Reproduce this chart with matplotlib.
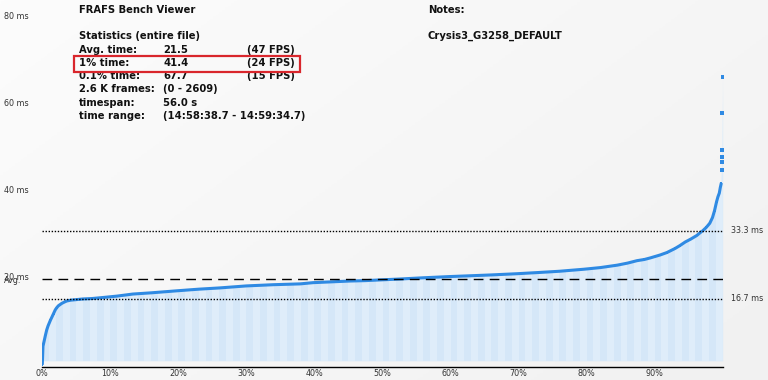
import numpy as np
import matplotlib
matplotlib.use("Agg")
import matplotlib.pyplot as plt
from matplotlib.patches import Rectangle

# ---------------- data ----------------
pct = [0, 0.1, 0.25, 0.45, 0.65, 0.85, 1.0, 1.2, 1.4, 1.65, 1.9, 2.1, 2.35, 2.6,
       2.85, 3.2, 3.6, 4.2, 4.8, 6.0, 7.3, 9.2, 11, 13.3, 16, 19.8, 23, 26, 30,
       34, 37.9, 39.8, 42.5, 45.2, 47.5, 50, 52.6, 56, 59.9, 63, 66, 69.8, 73,
       76, 79.6, 82, 84.5, 86, 87.4, 88.5, 89.4, 90.8, 91.8, 93, 93.7, 94.5,
       95.3, 96.2, 96.7, 97.1, 97.6, 98.1, 98.5, 98.8, 99.1, 99.3, 99.5, 99.65,
       99.8, 99.85, 99.88, 99.9, 99.92, 99.96, 100]
frame_ms = [0.4, 5.0, 6.1, 7.6, 9.0, 10.0, 10.6, 11.4, 12.1, 13.0, 13.9, 14.4,
            14.9, 15.2, 15.5, 15.8, 16.1, 16.3, 16.4, 16.6, 16.7, 17.0, 17.3,
            17.8, 18.1, 18.6, 19.0, 19.3, 19.8, 20.1, 20.3, 20.6, 20.8, 21.0,
            21.1, 21.3, 21.5, 21.8, 22.1, 22.3, 22.5, 22.8, 23.1, 23.4, 23.9,
            24.3, 24.9, 25.4, 26.0, 26.3, 26.7, 27.4, 28.0, 29.0, 29.7, 30.6,
            31.3, 32.2, 32.9, 33.4, 34.2, 35.2, 36.6, 38.3, 40.5, 41.7, 42.6,
            44.0, 45.1, 48.3, 50.3, 51.5, 53.2, 62.2, 71.1]
outlier_from = 99.85          # points drawn as isolated dots

avg_ms = 21.5
ref_lines = [33.3, 16.7]
ref_labels = ["33.3 ms", "16.7 ms"]

ytick_vals = [20, 40, 60, 80]
ytick_labels = ["20 ms", "40 ms", "60 ms", "80 ms"]
xtick_vals = [0, 10, 20, 30, 40, 50, 60, 70, 80, 90]
xtick_labels = ["0%", "10%", "20%", "30%", "40%", "50%", "60%", "70%", "80%", "90%"]

title = "FRAFS Bench Viewer"
stats_header = "Statistics (entire file)"
stat_names = ["Avg. time:", "1% time:", "0.1% time:", "2.6 K frames:", "timespan:", "time range:"]
stat_values = ["21.5", "41.4", "67.7", "(0 - 2609)", "56.0 s", "(14:58:38.7 - 14:59:34.7)"]
stat_fps = ["(47 FPS)", "(24 FPS)", "(15 FPS)", "", "", ""]
notes_title = "Notes:"
notes_text = "Crysis3_G3258_DEFAULT"

# ---------------- figure ----------------
W, H = 768, 380
fig = plt.figure(figsize=(W / 100, H / 100), dpi=100)
fig.patch.set_facecolor("#f6f6f6")

# background gradient
bg = fig.add_axes([0, 0, 1, 1], zorder=-10)
grad = np.linspace(0, 1, 256)
gx, gy = np.meshgrid(grad, grad)
bg.imshow(0.6 * gx + 0.4 * gy, cmap=matplotlib.colors.LinearSegmentedColormap.from_list(
    "bgc", ["#fcfcfc", "#f1f1f1"]), aspect="auto", extent=[0, 1, 0, 1], origin="upper")
bg.axis("off")

def fx(px):
    return px / W

def fy(py):
    return 1 - py / H

ax_l, ax_r, ax_b, ax_t = 42.3, 722.7, 366.5, 0.0
ax = fig.add_axes([fx(ax_l), fy(ax_b), fx(ax_r) - fx(ax_l), fy(ax_t) - fy(ax_b)])
ax.set_facecolor("none")
px_per_ms = 4.07
ax.set_xlim(0, 100)
ax.set_ylim(0, (ax_b - ax_t) / px_per_ms)

p = np.array(pct, dtype=float)
v = np.array(frame_ms, dtype=float)
fill_base = 1.4

poly = ax.fill_between(p, v, fill_base, color="#d9eaf8", lw=0, zorder=1)
# vertical stripes clipped to the filled area
stripes = ax.bar(np.arange(100) + 0.5, [ax.get_ylim()[1]] * 100, width=1.0,
                 color=["#d5e7f8" if i % 2 == 0 else "#dfedfa" for i in range(100)],
                 lw=0, zorder=1.5)
clip = poly.get_paths()[0]
for b in stripes:
    b.set_clip_path(clip, ax.transData)

main = p < outlier_from
ax.plot(p[main], v[main], color="#2f8ae3", lw=2.2, zorder=3, solid_capstyle="butt")
ax.plot(p[main], v[main], ls="none", marker="s", ms=2.0, color="#2f8ae3", mew=0, zorder=3)
ax.plot(p[~main], v[~main], ls="none", marker="s", ms=2.6, color="#2f8ae3", mew=0, zorder=3)

ax.axhline(avg_ms, color="black", lw=1.0, ls=(0, (7, 4.5)), zorder=4)
for yl in ref_lines:
    ax.axhline(yl, color="black", lw=1.0, ls=(0, (1, 1.2)), zorder=4)

for s in ["top", "right", "left"]:
    ax.spines[s].set_visible(False)
ax.spines["bottom"].set_linewidth(1.0)
ax.spines["bottom"].set_color("black")
ax.set_xticks(xtick_vals)
ax.set_xticklabels(xtick_labels, fontsize=5.8, color="#333333")
ax.tick_params(axis="x", length=0, pad=1.5)
ax.set_yticks([])

# y tick labels (they sit on their own scale in the reference)
ax2 = ax.twinx()
lab_zero_px, lab_px_per_ms = 363.9, 4.36
ax2.set_ylim(-(ax_b - lab_zero_px) / lab_px_per_ms, (lab_zero_px - ax_t) / lab_px_per_ms)
ax2.yaxis.tick_left()
ax2.set_yticks(ytick_vals)
ax2.set_yticklabels(ytick_labels, fontsize=5.8, color="#333333")
ax2.tick_params(axis="y", length=0, pad=9.5)
for s in ax2.spines.values():
    s.set_visible(False)

# right-side reference labels
for yl, lab in zip(ref_lines, ref_labels):
    ax.annotate(lab, xy=(1, yl), xycoords=("axes fraction", "data"),
                xytext=(8, 0), textcoords="offset pixels", va="center", ha="left",
                fontsize=5.8, color="#333333", annotation_clip=False)
ax.annotate("Avg.", xy=(0, avg_ms), xycoords=("axes fraction", "data"),
            xytext=(-38, -2), textcoords="offset pixels", va="center", ha="left",
            fontsize=5.8, color="#333333", annotation_clip=False)

# ---------------- text block ----------------
tf = dict(fontsize=7.2, fontweight="bold", color="#111111", va="center", ha="left")
fig.text(fx(79), fy(10), title, **tf)
fig.text(fx(79), fy(36), stats_header, **tf)
row_y = [50, 62.7, 75.7, 89, 102.7, 116]
for yy, a, b, c in zip(row_y, stat_names, stat_values, stat_fps):
    fig.text(fx(79), fy(yy), a, **tf)
    fig.text(fx(163), fy(yy), b, **tf)
    if c:
        fig.text(fx(247), fy(yy), c, **tf)
fig.text(fx(428), fy(10), notes_title, **tf)
fig.text(fx(428), fy(36), notes_text, **tf)

fig.patches.append(Rectangle((fx(73.5), fy(71.5)), fx(300) - fx(73.5), fy(55.5) - fy(71.5),
                             transform=fig.transFigure, fill=False,
                             edgecolor="#d9262c", lw=1.6, zorder=10))

fig.savefig("out.png", dpi=100, facecolor=fig.get_facecolor())
